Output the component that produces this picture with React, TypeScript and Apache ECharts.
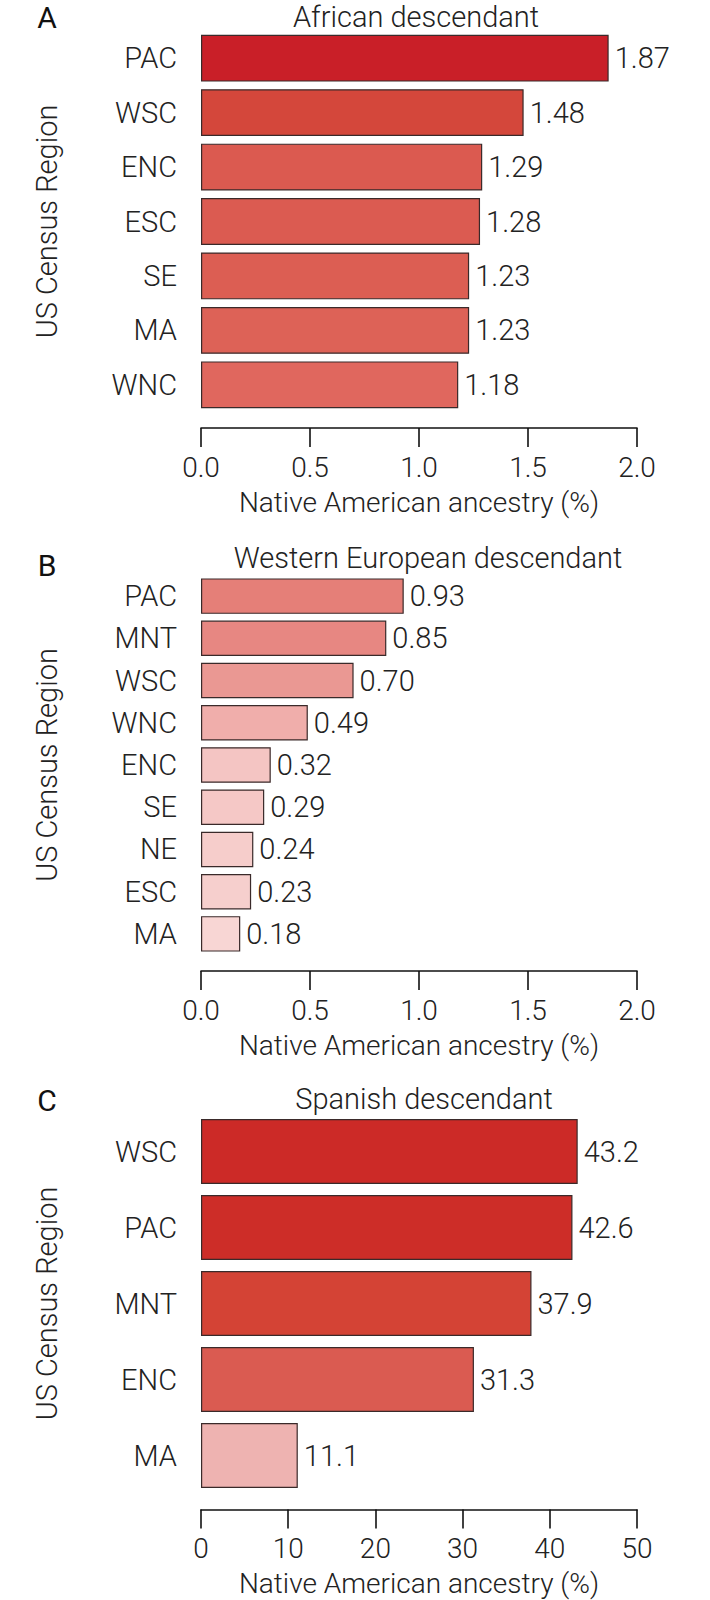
import React, { useEffect, useRef } from "react";
import * as echarts from "echarts";

const aCats = ["PAC", "WSC", "ENC", "ESC", "SE", "MA", "WNC"];
const aVals = [1.87, 1.48, 1.29, 1.28, 1.23, 1.23, 1.18];
const aColors = ["#c91f28", "#d4473b", "#db5a50", "#db5b51", "#dc5e53", "#dd6257", "#e0675e"];

const bCats = ["PAC", "MNT", "WSC", "WNC", "ENC", "SE", "NE", "ESC", "MA"];
const bVals = [0.93, 0.85, 0.7, 0.49, 0.32, 0.29, 0.24, 0.23, 0.18];
const bColors = ["#e57f78", "#e78782", "#ea9893", "#f0aeab", "#f4c5c3", "#f5c8c6", "#f6cdcb", "#f6cfcd", "#f8d6d4"];

const cCats = ["WSC", "PAC", "MNT", "ENC", "MA"];
const cVals = [43.2, 42.6, 37.9, 31.3, 11.1];
const cColors = ["#cc2a27", "#cd2d28", "#d44335", "#da5b51", "#eeb3b1"];

const panelLetters = ["A", "B", "C"];
const panelTitles = ["African descendant", "Western European descendant", "Spanish descendant"];
const yName = "US Census Region";
const xName = "Native American ancestry (%)";

const FONT = "Roboto, 'Liberation Sans', sans-serif";
const TXT = "#222";
const FS = 29;

export default function App() {
  const ref = useRef<HTMLDivElement>(null);
  useEffect(() => {
    if (!ref.current) return;
    const chart = echarts.init(ref.current, undefined, { renderer: "svg" });

    const grids = [
      { left: 201, width: 436, top: 31, height: 381 },
      { left: 201, width: 436, top: 575, height: 380 },
      { left: 201, width: 436, top: 1113.5, height: 380 },
    ];
    const xCfg = [
      { max: 2, interval: 0.5, dec: 1, lblDec: 2 },
      { max: 2, interval: 0.5, dec: 1, lblDec: 2 },
      { max: 50, interval: 10, dec: 0, lblDec: 1 },
    ];
    const cats = [aCats, bCats, cCats];
    const vals = [aVals, bVals, cVals];
    const cols = [aColors, bColors, cColors];
    const gaps = ["14%", "16%", "14.5%"];

    const textStyle = { fontFamily: FONT, fontWeight: 300, color: TXT, fontSize: FS };

    const option: any = {
      animation: false,
      grid: grids.map((g) => ({ ...g, containLabel: false })),
      xAxis: xCfg.map((c, i) => ({
        type: "value",
        gridIndex: i,
        min: 0,
        max: c.max,
        interval: c.interval,
        offset: 16,
        splitLine: { show: false },
        axisLine: { show: true, lineStyle: { color: "#111", width: 1.6 } },
        axisTick: { show: true, length: 19, inside: false, lineStyle: { color: "#111", width: 1.6 } },
        axisLabel: {
          ...textStyle,
          fontSize: 28,
          margin: 25,
          formatter: (v: number) => v.toFixed(c.dec),
        },
        name: xName,
        nameLocation: "middle",
        nameGap: 60,
        nameTextStyle: { ...textStyle, fontSize: 28 },
      })),
      yAxis: cats.map((cs, i) => ({
        type: "category",
        gridIndex: i,
        data: cs,
        inverse: true,
        axisLine: { show: false },
        axisTick: { show: false },
        splitLine: { show: false },
        axisLabel: { ...textStyle, margin: 24 },
        name: yName,
        nameLocation: "middle",
        nameRotate: 90,
        nameGap: 140,
        nameTextStyle: { ...textStyle },
      })),
      series: vals.map((vs, i) => ({
        type: "bar",
        xAxisIndex: i,
        yAxisIndex: i,
        barCategoryGap: gaps[i],
        data: vs.map((v, j) => ({
          value: v,
          itemStyle: { color: cols[i][j], borderColor: "#3a2a2a", borderWidth: 1.2 },
        })),
        label: {
          show: true,
          position: "right",
          distance: 6,
          ...textStyle,
          formatter: (p: any) => Number(p.value).toFixed(xCfg[i].lblDec),
        },
      })),
      graphic: [
        ...panelLetters.map((t, i) => ({
          type: "text",
          x: 47,
          y: [17, 565, 1100][i],
          style: {
            text: t,
            fontFamily: FONT,
            fontWeight: 400,
            fontSize: 30,
            fill: "#111",
            textAlign: "center",
            textVerticalAlign: "middle",
          },
        })),
        ...panelTitles.map((t, i) => ({
          type: "text",
          x: [416, 428, 424][i],
          y: [17, 558, 1099][i],
          style: {
            text: t,
            fontFamily: FONT,
            fontWeight: 300,
            fontSize: FS,
            fill: TXT,
            textAlign: "center",
            textVerticalAlign: "middle",
          },
        })),
      ],
    };
    chart.setOption(option);
    return () => chart.dispose();
  }, []);
  return (
    <div
      ref={ref}
      style={{ position: "absolute", left: 0, top: 0, width: 710, height: 1600, background: "#fff" }}
    />
  );
}
